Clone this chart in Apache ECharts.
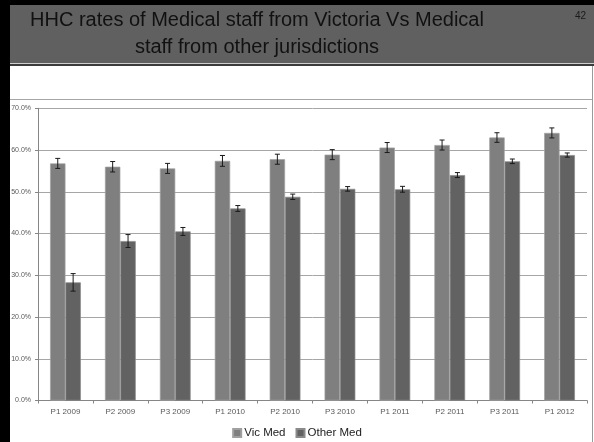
<!DOCTYPE html>
<html>
<head>
<meta charset="utf-8">
<script src="https://cdn.jsdelivr.net/npm/echarts@6/dist/echarts.min.js"></script>
<style>
html,body{margin:0;padding:0;background:#fff;}
#chart{width:594px;height:442px;}
</style>
</head>
<body>
<div id="chart"></div>
<script>
const titleLines = ['HHC rates of Medical staff from Victoria Vs Medical', 'staff from other jurisdictions'];
const slideNumber = '42';
const categories = ['P1 2009','P2 2009','P3 2009','P1 2010','P2 2010','P3 2010','P1 2011','P2 2011','P3 2011','P1 2012'];
const seriesNames = ['Vic Med', 'Other Med'];
const vicMed = [56.8, 56.0, 55.6, 57.4, 57.8, 58.9, 60.6, 61.2, 63.0, 64.1];
const vicMedErr = [1.2, 1.25, 1.2, 1.3, 1.2, 1.2, 1.2, 1.2, 1.15, 1.2];
const otherMed = [28.3, 38.2, 40.5, 46.0, 48.8, 50.7, 50.6, 54.0, 57.3, 58.8];
const otherMedErr = [2.1, 1.55, 0.95, 0.7, 0.65, 0.55, 0.7, 0.6, 0.55, 0.5];
const yTicks = [0, 10, 20, 30, 40, 50, 60, 70];

const CAT_GAP = 0.44;

function errData(vals, errs) {
  return vals.map((v, i) => [i, v - errs[i], v + errs[i]]);
}
function errRender(side) {
  return function (params, api) {
    const idx = api.value(0);
    const lo = api.coord([idx, api.value(1)]);
    const hi = api.coord([idx, api.value(2)]);
    const band = api.size([1, 0])[0];
    const barW = band * (1 - CAT_GAP) / 2;
    const x = lo[0] + side * barW / 2;
    const cap = 2.5;
    const style = { stroke: '#1a1a1a', lineWidth: 1 };
    return {
      type: 'group',
      children: [
        { type: 'line', shape: { x1: x, y1: lo[1], x2: x, y2: hi[1] }, style },
        { type: 'line', shape: { x1: x - cap, y1: lo[1], x2: x + cap, y2: lo[1] }, style },
        { type: 'line', shape: { x1: x - cap, y1: hi[1], x2: x + cap, y2: hi[1] }, style }
      ]
    };
  };
}

const chart = echarts.init(document.getElementById('chart'), null, { renderer: 'canvas' });
const option = {
  backgroundColor: '#ffffff',
  animation: false,
  graphic: [
    { type: 'rect', shape: { x: 0, y: 0, width: 594, height: 5 }, style: { fill: '#000' }, silent: true },
    { type: 'rect', shape: { x: 0, y: 0, width: 10, height: 442 }, style: { fill: '#000' }, silent: true },
    { type: 'rect', shape: { x: 10, y: 5, width: 584, height: 58 }, style: { fill: '#606060' }, silent: true },
    { type: 'rect', shape: { x: 10, y: 63, width: 584, height: 1 }, style: { fill: '#cfcfcf' }, silent: true },
    { type: 'rect', shape: { x: 10, y: 64, width: 584, height: 2 }, style: { fill: '#3c3c3c' }, silent: true },
    { type: 'rect', shape: { x: 592, y: 66, width: 1, height: 376 }, style: { fill: '#9a9a9a' }, silent: true },
    { type: 'rect', shape: { x: 10, y: 99, width: 582, height: 1 }, style: { fill: '#a6a6a6' }, silent: true },
    { type: 'text', x: 257, y: 30, style: { text: titleLines[0], fill: '#111', font: '20px "Liberation Sans"', textAlign: 'center', textVerticalAlign: 'bottom' }, silent: true },
    { type: 'text', x: 257, y: 57, style: { text: titleLines[1], fill: '#111', font: '20px "Liberation Sans"', textAlign: 'center', textVerticalAlign: 'bottom' }, silent: true },
    { type: 'text', x: 586, y: 16, style: { text: slideNumber, fill: '#1a1a1a', font: '10px "Liberation Sans"', textAlign: 'right', textVerticalAlign: 'middle' }, silent: true }
  ],
  legend: {
    data: seriesNames,
    top: 422,
    left: 'center',
    itemWidth: 8,
    itemHeight: 8,
    itemGap: 10,
    icon: 'rect',
    textStyle: { fontFamily: 'Liberation Sans', fontSize: 11.5, color: '#222', padding: [0, 0, 0, -2] }
  },
  grid: { left: 38, right: 7, top: 108.3, bottom: 41.5, containLabel: false },
  xAxis: {
    type: 'category',
    data: categories,
    axisLine: { lineStyle: { color: '#868686' } },
    axisTick: { show: true, length: 3, lineStyle: { color: '#868686' } },
    axisLabel: { color: '#595959', fontSize: 8, fontFamily: 'Liberation Sans', margin: 7 },
    splitLine: { show: false }
  },
  yAxis: {
    type: 'value',
    min: yTicks[0],
    max: yTicks[yTicks.length - 1],
    interval: 10,
    axisLine: { show: true, lineStyle: { color: '#868686' } },
    axisTick: { show: true, length: 3, lineStyle: { color: '#868686' } },
    axisLabel: { color: '#595959', fontSize: 7, fontFamily: 'Liberation Sans', margin: 7, formatter: v => v.toFixed(1) + '%' },
    splitLine: { lineStyle: { color: '#a6a6a6', width: 1 } }
  },
  series: [
    {
      name: seriesNames[0], type: 'bar', data: vicMed,
      barGap: '0%', barCategoryGap: (CAT_GAP * 100) + '%',
      itemStyle: { color: '#7f7f7f', borderColor: '#a0a0a0', borderWidth: 0.7 }
    },
    {
      name: seriesNames[1], type: 'bar', data: otherMed,
      barGap: '0%', barCategoryGap: (CAT_GAP * 100) + '%',
      itemStyle: { color: '#626262', borderColor: '#8a8a8a', borderWidth: 0.7 }
    },
    { type: 'custom', renderItem: errRender(-1), data: errData(vicMed, vicMedErr), encode: { x: 0, y: [1, 2] }, z: 5, silent: true },
    { type: 'custom', renderItem: errRender(1), data: errData(otherMed, otherMedErr), encode: { x: 0, y: [1, 2] }, z: 5, silent: true }
  ]
};
chart.setOption(option);
</script>
</body>
</html>
